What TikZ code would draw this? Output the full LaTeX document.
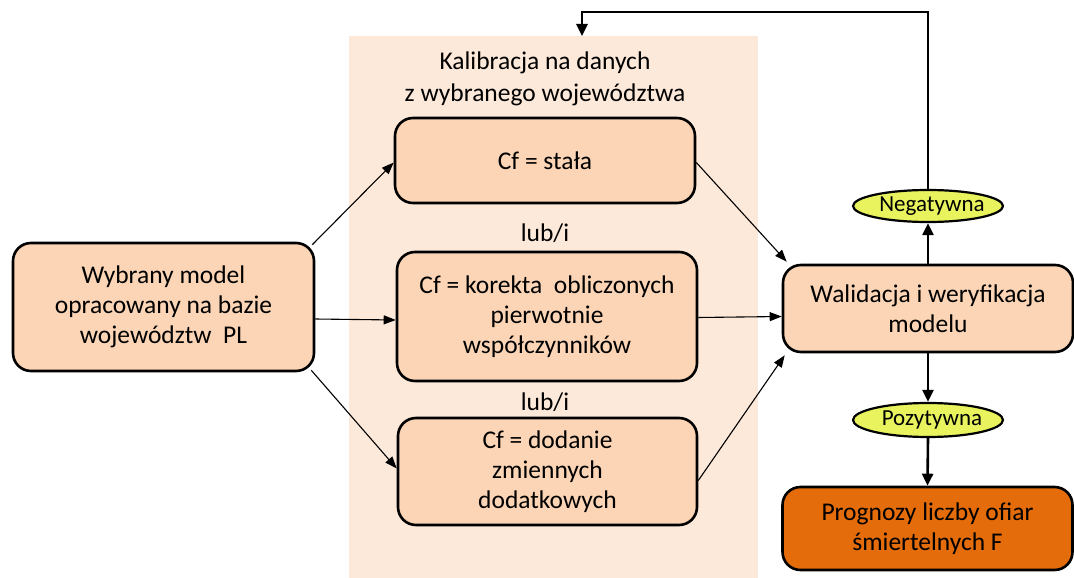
\documentclass[tikz,border=0pt]{standalone}
\usepackage{fontspec}
\setmainfont{Carlito}
\usetikzlibrary{arrows.meta,shapes.geometric,calc}
\definecolor{panelc}{HTML}{FDE9D9}
\definecolor{boxc}{HTML}{FBD5B5}
\definecolor{darkc}{HTML}{E46C0A}
\definecolor{ellc}{HTML}{E8F35E}
\tikzset{
  rbox/.style={draw=black, line width=2.6pt, rounded corners=18pt, fill=boxc, align=center, inner sep=2pt,
    font=\fontsize{25.5}{30}\selectfont},
  oval/.style={ellipse, draw=black, line width=2.2pt, fill=ellc, inner ysep=0pt, inner xsep=-5pt,
    font=\fontsize{23}{24}\selectfont},
  thin arr/.style={line width=1.1pt, -{Triangle[length=12pt,width=9pt]}},
  thick arr/.style={line width=2.6pt, -{Triangle[length=12pt,width=11pt]}},
  lbl/.style={font=\fontsize{25.5}{32}\selectfont, align=center},
}
\begin{document}
\begin{tikzpicture}[x=1pt,y=-1pt]
\useasboundingbox (0,0) rectangle (1074,578);
\fill[panelc] (349,36) rectangle (758,580);
\coordinate (fb) at (582,36);
\coordinate (fbc) at (928,12);

\node[lbl] (title) at (545,79) {Kalibracja na danych\\z wybranego województwa};
\node[rbox, minimum width=301pt, minimum height=128pt] (wyb) at (163.5,307) {Wybrany model\\opracowany na bazie\\województw\ \ PL};
\node[rbox, minimum width=300pt, minimum height=85pt] (b1) at (545,160.5) {Cf = stała};
\node[lbl] (lub1) at (545,233) {lub/i};
\node[rbox, minimum width=300pt, minimum height=129pt] (b2) at (547,316.5) {Cf = korekta\ \ obliczonych\\pierwotnie\\współczynników};
\node[lbl] (lub2) at (545,402) {lub/i};
\node[rbox, minimum width=299pt, minimum height=107pt] (b3) at (547.5,471.5) {Cf = dodanie\\zmiennych\\dodatkowych};
\node[rbox, minimum width=290pt, minimum height=87pt] (val) at (928,308.5) {Walidacja i weryfikacja\\modelu};
\node[oval, minimum width=150pt, minimum height=32pt] (neg) at (928,206) {\hspace*{8pt}Negatywna};
\node[oval, minimum width=150pt, minimum height=34pt] (poz) at (928,420) {\hspace*{8pt}Pozytywna};
\node[rbox, fill=darkc, minimum width=290pt, minimum height=83pt] (prog) at (927.5,528.5) {Prognozy liczby ofiar\\śmiertelnych F};

\draw[thin arr] ($(wyb.north east)+(-3,3)$) -- ($(b1.west)+(0,2)$);
\draw[thin arr] ($(wyb.east)+(0,12)$) -- ($(b2.west)+(0,3.5)$);
\draw[thin arr] ($(wyb.south east)+(-4,-2)$) -- ($(b3.west)+(0,-3)$);
\draw[thin arr] ($(b1.east)+(0,2)$) -- ($(val.north west)+(5,-2)$);
\draw[thin arr] ($(b2.east)+(0,1)$) -- ($(val.west)+(0,8)$);
\draw[thin arr] ($(b3.east)+(0,9)$) -- ($(val.south west)+(3,2)$);
\draw[thick arr] (val.north) -- (neg.south);
\draw[thick arr] (val.south) -- (poz.north);
\draw[thick arr] (poz.south) -- (prog.north);
\draw[thick arr] (neg.north) -- (fbc) -| (fb);
\end{tikzpicture}
\end{document}
